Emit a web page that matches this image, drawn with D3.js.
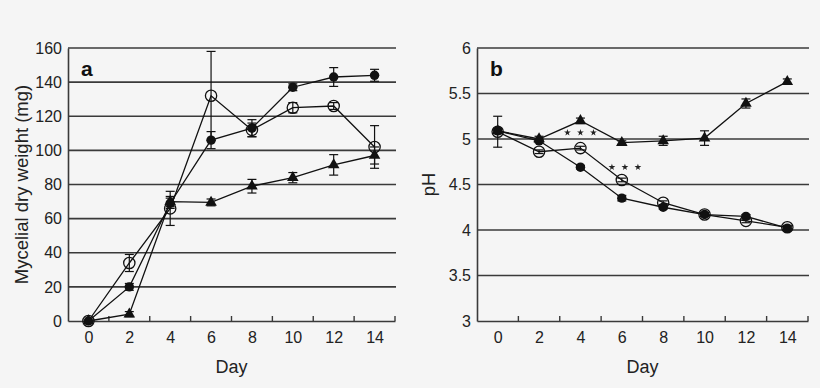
<!DOCTYPE html>
<html>
<head>
<meta charset="utf-8">
<script src="https://cdn.jsdelivr.net/npm/d3@7"></script>
<style>
  html, body { margin: 0; padding: 0; background: #f5f5f5; }
  svg { display: block; font-family: "Liberation Sans", Arial, Helvetica, sans-serif; }
</style>
</head>
<body>
<svg id="chart" width="820" height="388"></svg>
<script>
// ---------- DATA ----------
const days = [0, 2, 4, 6, 8, 10, 12, 14];
const dayTickLabels = ["0", "2", "4", "6", "8", "10", "12", "14"];

// Panel a: mycelial dry weight (mg)
const weightOpen     = [0, 34, 66, 132, 112, 125, 126, 102];
const weightOpenErr  = [0, 5, 10, 26, 4, 3, 2, 12.5];
const weightFilled   = [0, 20, 69, 106, 113, 137, 143, 144];
const weightFilledErr= [0, 2, 3, 5, 5, 2, 5.5, 3.5];
const weightTri      = [0, 4, 70, 69.5, 79, 84, 91.5, 97];
const weightTriErr   = [0, 1.5, 3, 2, 4, 3, 6, 5];
const weightTicks    = [0, 20, 40, 60, 80, 100, 120, 140, 160];

// Panel b: pH
const phOpen      = [5.08, 4.86, 4.9, 4.55, 4.3, 4.17, 4.1, 4.03];
const phOpenErr   = [0.17, 0.02, 0.02, 0.02, 0.02, 0.02, 0.02, 0.02];
const phFilled    = [5.09, 4.98, 4.69, 4.35, 4.25, 4.17, 4.15, 4.02];
const phFilledErr = [0.02, 0.02, 0.02, 0.03, 0.02, 0.02, 0.02, 0.02];
const phTri       = [5.09, 5.0, 5.2, 4.96, 4.98, 5.01, 5.39, 5.63];
const phTriErr    = [0.02, 0.03, 0.03, 0.02, 0.05, 0.08, 0.05, 0.03];
const phTicks     = [3, 3.5, 4, 4.5, 5, 5.5, 6];
const phTickLabels= ["3", "3.5", "4", "4.5", "5", "5.5", "6"];
// significance stars (day position, pH position)
const phStars     = [{day: 4, value: 5.07}, {day: 6.15, value: 4.69}];

// ---------- DRAWING ----------
const svg = d3.select("#chart");
const ink = "#111";
const bg = "#f5f5f5";

function panel(opts) {
  const g = svg.append("g");
  const x = d3.scaleLinear().domain([-1, 15]).range([opts.left, opts.right]);
  const y = d3.scaleLinear().domain(opts.yDomain).range([opts.bottom, opts.top]);

  // horizontal gridlines (incl. top)
  g.append("g").selectAll("line").data(opts.yTicks.slice(1)).join("line")
    .attr("x1", opts.left).attr("x2", opts.right + 1)
    .attr("y1", d => y(d)).attr("y2", d => y(d))
    .attr("stroke", "#3a3a3a").attr("stroke-width", 1.6);

  // y axis
  const yAxis = d3.axisLeft(y).tickValues(opts.yTicks)
    .tickFormat((d, i) => opts.yTickLabels[i]).tickSize(0).tickPadding(6);
  const ya = g.append("g").attr("transform", `translate(${opts.left},0)`).call(yAxis);
  ya.select(".domain").attr("stroke", "#3a3a3a").attr("stroke-width", 1.6);
  ya.selectAll("text").attr("font-size", 16).attr("fill", "#222");

  // x axis: labels at day centres, tick marks at band edges
  const xAxis = d3.axisBottom(x).tickValues(days)
    .tickFormat((d, i) => dayTickLabels[i]).tickSize(0).tickPadding(11);
  const xa = g.append("g").attr("transform", `translate(0,${opts.bottom})`).call(xAxis);
  xa.select(".domain").attr("stroke", "#3a3a3a").attr("stroke-width", 1.6);
  xa.selectAll("text").attr("font-size", 16).attr("fill", "#222");
  g.append("g").selectAll("line").data(days.map(d => d + 1)).join("line")
    .attr("x1", d => x(d)).attr("x2", d => x(d))
    .attr("y1", opts.bottom).attr("y2", opts.bottom - 5)
    .attr("stroke", "#3a3a3a").attr("stroke-width", 1.4);

  // axis titles
  g.append("text").attr("x", (opts.left + opts.right) / 2).attr("y", 373)
    .attr("text-anchor", "middle").attr("font-size", 18).attr("fill", "#222").text("Day");
  g.append("text")
    .attr("transform", `translate(${opts.yTitleX},${(opts.top + opts.bottom) / 2}) rotate(-90)`)
    .attr("text-anchor", "middle").attr("font-size", 18.5).attr("fill", "#222").text(opts.yTitle);

  // panel letter
  g.append("text").attr("x", opts.left + 13).attr("y", opts.top + 28)
    .attr("font-size", 21).attr("font-weight", "bold").attr("fill", "#111").text(opts.letter);

  const line = d3.line().x(d => x(d.day)).y(d => y(d.v));

  opts.series.forEach(s => {
    const pts = days.map((d, i) => ({day: d, v: s.values[i], e: s.err[i]}));
    const sg = g.append("g");
    // error bars
    const eb = sg.append("g").selectAll("g").data(pts.filter(p => p.e > 0)).join("g");
    eb.append("line").attr("x1", p => x(p.day)).attr("x2", p => x(p.day))
      .attr("y1", p => y(p.v + p.e)).attr("y2", p => y(p.v - p.e))
      .attr("stroke", ink).attr("stroke-width", 1.2);
    [1, -1].forEach(sgn => {
      eb.append("line").attr("x1", p => x(p.day) - 4.5).attr("x2", p => x(p.day) + 4.5)
        .attr("y1", p => y(p.v + sgn * p.e)).attr("y2", p => y(p.v + sgn * p.e))
        .attr("stroke", ink).attr("stroke-width", 1.2);
    });
    // connecting line
    sg.append("path").datum(pts).attr("d", line)
      .attr("fill", "none").attr("stroke", ink).attr("stroke-width", 1.3);
    // markers
    const mk = sg.append("g").selectAll("path").data(pts).join("path")
      .attr("transform", p => `translate(${x(p.day)},${y(p.v)})`);
    if (s.type === "open") {
      mk.attr("d", d3.symbol(d3.symbolCircle, 100)()).attr("fill", bg)
        .attr("fill-opacity", 0).attr("stroke", ink).attr("stroke-width", 1.3);
    } else if (s.type === "filled") {
      mk.attr("d", d3.symbol(d3.symbolCircle, 70)()).attr("fill", ink);
    } else {
      mk.attr("d", d3.symbol(d3.symbolTriangle, 58)()).attr("fill", ink);
    }
  });

  if (opts.stars) {
    const star = d3.symbol(d3.symbolStar, 14)();
    opts.stars.forEach(st => {
      [-13, 0, 13].forEach(dx => {
        g.append("path").attr("d", star)
          .attr("transform", `translate(${x(st.day) + dx},${y(st.value)})`)
          .attr("fill", "#222");
      });
    });
  }
}

panel({
  left: 68, right: 395, top: 48, bottom: 321,
  yDomain: [0, 160], yTicks: weightTicks, yTickLabels: weightTicks.map(String),
  yTitle: "Mycelial dry weight (mg)", yTitleX: 28, letter: "a",
  series: [
    {type: "open", values: weightOpen, err: weightOpenErr},
    {type: "filled", values: weightFilled, err: weightFilledErr},
    {type: "tri", values: weightTri, err: weightTriErr}
  ]
});

panel({
  left: 477, right: 808, top: 48, bottom: 321,
  yDomain: [3, 6], yTicks: phTicks, yTickLabels: phTickLabels,
  yTitle: "pH", yTitleX: 435, letter: "b",
  series: [
    {type: "open", values: phOpen, err: phOpenErr},
    {type: "filled", values: phFilled, err: phFilledErr},
    {type: "tri", values: phTri, err: phTriErr}
  ],
  stars: phStars
});
</script>
</body>
</html>
